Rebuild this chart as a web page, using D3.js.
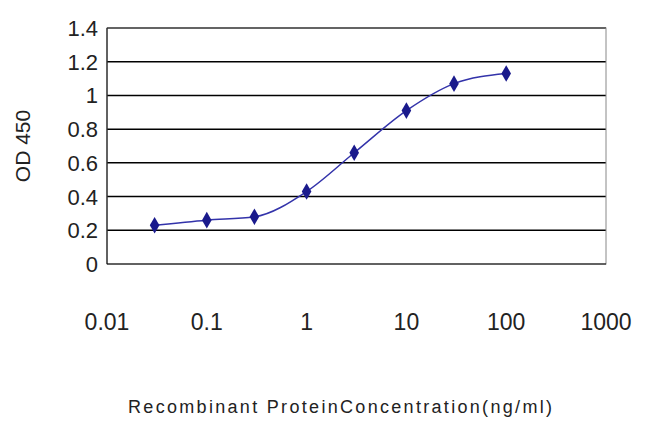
<!DOCTYPE html>
<html><head><meta charset="utf-8">
<script src="https://cdn.jsdelivr.net/npm/d3@7/dist/d3.min.js"></script>
<style>body{margin:0;background:#fff}text{font-family:Arial,"Liberation Sans",sans-serif}</style>
</head><body><svg id="c" width="650" height="433"></svg>
<script>
const conc=[0.03,0.1,0.3,1,3,10,30,100];
const od=[0.23,0.26,0.28,0.43,0.66,0.91,1.07,1.13];
const xTicks=[0.01,0.1,1,10,100,1000];
const xTickLabels=["0.01","0.1","1","10","100","1000"];
const yTicks=[0,0.2,0.4,0.6,0.8,1,1.2,1.4];
const yTickLabels=["0","0.2","0.4","0.6","0.8","1","1.2","1.4"];
const svg=d3.select("#c");
const x=d3.scaleLog().domain([0.01,1000]).range([107,606]);
const y=d3.scaleLinear().domain([0,1.4]).range([264,28]);
svg.append("g").selectAll("line").data(yTicks.slice(1)).join("line")
 .attr("x1",107).attr("x2",606).attr("y1",d=>y(d)).attr("y2",d=>y(d)).attr("stroke","#000").attr("stroke-width",1.5);
svg.append("rect").attr("x",107).attr("y",28).attr("width",499).attr("height",236).attr("fill","none").attr("stroke","#888");
svg.append("line").attr("x1",107).attr("x2",107).attr("y1",28).attr("y2",264).attr("stroke","#000");
svg.append("line").attr("x1",107).attr("x2",606).attr("y1",264).attr("y2",264).attr("stroke","#000");
svg.append("g").selectAll("text").data(yTicks).join("text")
 .attr("x",98).attr("y",d=>y(d)+8).attr("text-anchor","end").attr("font-size",22).attr("fill","#222").text((d,i)=>yTickLabels[i]);
svg.append("g").selectAll("text").data(xTicks).join("text")
 .attr("x",d=>x(d)).attr("y",330).attr("text-anchor","middle").attr("font-size",23).attr("fill","#222").text((d,i)=>xTickLabels[i]);
svg.append("text").attr("transform","translate(30,146) rotate(-90)").attr("text-anchor","middle").attr("font-size",21).attr("fill","#222").text("OD 450");
svg.append("text").attr("x",340).attr("y",413).attr("text-anchor","middle").attr("font-size",18).attr("fill","#222").attr("textLength",424).text("Recombinant ProteinConcentration(ng/ml)");
const pts=conc.map((c,i)=>[x(c),y(od[i])]);
svg.append("path").attr("d",d3.line().curve(d3.curveMonotoneX)(pts)).attr("fill","none").attr("stroke","#3333aa").attr("stroke-width",1.5);
svg.append("g").selectAll("path").data(pts).join("path")
 .attr("d",d3.symbol(d3.symbolDiamond,80)).attr("transform",d=>`translate(${d[0]},${d[1]})`).attr("fill","#1a1a8c");
</script></body></html>
